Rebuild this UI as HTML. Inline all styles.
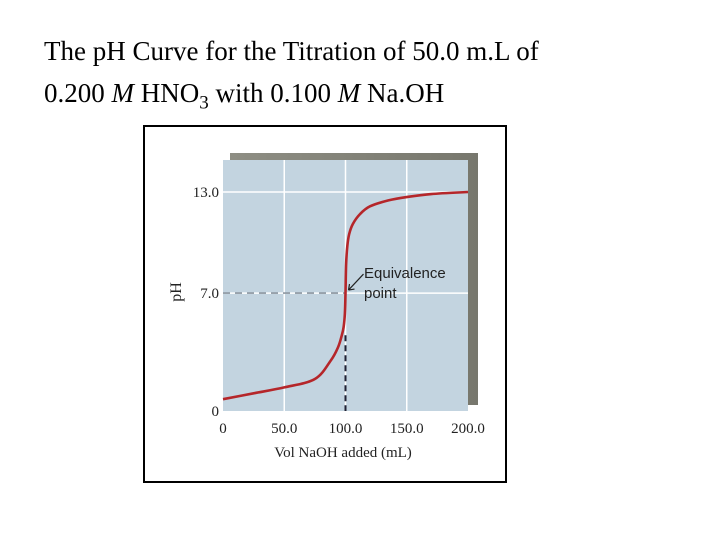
<!DOCTYPE html>
<html><head><meta charset="utf-8"><style>
body{margin:0;width:720px;height:540px;background:#fff;overflow:hidden;position:relative;font-family:"Liberation Serif",serif}
#title{position:absolute;left:44px;top:30px;font-size:27px;line-height:42px;color:#000;white-space:nowrap}
</style></head><body>
<div id="title">The pH Curve for the Titration of 50.0 m.L of<br>0.200 <i>M</i> HNO<sub style="font-size:19px">3</sub> with 0.100 <i>M</i> Na.OH</div>
<svg id="chart" width="720" height="540" style="position:absolute;left:0;top:0">
<defs><linearGradient id="sh" x1="0" y1="0" x2="1" y2="0"><stop offset="0" stop-color="#8e8e84"/><stop offset="1" stop-color="#77776d"/></linearGradient></defs>
<rect x="144" y="126" width="362" height="356" fill="#fff" stroke="#000" stroke-width="2"/>
<rect x="230" y="153" width="248" height="252" fill="url(#sh)"/>
<g id="plot"></g>
</svg>
<script>
const xTicks=[0,50,100,150,200];
const xTickLabels=["0","50.0","100.0","150.0","200.0"];
const yTicks=[0,7,13];
const yTickLabels=["0","7.0","13.0"];
const volumes=[0,25,50,75,88,94,97,98.5,99.5,100,100.5,101.5,103,106,112,120,135,150,170,200];
const phValues=[0.7,1.05,1.4,1.9,3.0,3.8,4.5,5.0,5.8,7.0,8.7,9.8,10.5,11.1,11.7,12.15,12.5,12.7,12.88,13.0];
const equivVol=100, equivPH=7;
const X0=223,X1=468,Y0=411,Y1=160;
const xs=v=>X0+(v-0)/200*(X1-X0);
const ys=p=>Y0-p*(411-192)/13;
const ns="http://www.w3.org/2000/svg";
const g=document.getElementById('plot');
function mk(t,a,p){const e=document.createElementNS(ns,t);for(const k in a)e.setAttribute(k,a[k]);(p||g).appendChild(e);return e;}
let r=mk('rect',{x:X0,y:Y1,width:X1-X0,height:Y0-Y1,fill:'#c3d4e0'});


xTicks.forEach((v,i)=>{
 if(v>0&&v<200){let l=mk('line',{x1:xs(v),x2:xs(v),y1:Y1,y2:Y0,stroke:'#fff','stroke-width':1.5});
 
 }
 let t=mk('text',{x:xs(v),y:433,'text-anchor':'middle','font-size':15,fill:'#222','font-family':'Liberation Serif, serif'});
 t.textContent=xTickLabels[i];
 
 
});
yTicks.forEach((v,i)=>{
 if(v>0){let l=mk('line',{x1:X0,x2:X1,y1:ys(v),y2:ys(v),stroke:'#fff','stroke-width':1.5});
 
 }
 let t=mk('text',{x:219,y:ys(v)+5,'text-anchor':'end','font-size':15,fill:'#222','font-family':'Liberation Serif, serif'});
 t.textContent=yTickLabels[i];
 
 
});
let h=mk('line',{x1:X0,x2:xs(equivVol),y1:ys(equivPH),y2:ys(equivPH),stroke:'#7a8590','stroke-width':1.3,'stroke-dasharray':'7,5'});


let vl=mk('line',{x1:xs(equivVol),x2:xs(equivVol),y1:ys(4.5),y2:Y0,stroke:'#223','stroke-width':2,'stroke-dasharray':'6,4'});


const pts=volumes.map((v,i)=>[xs(v),ys(phValues[i])]);
let d='M'+pts[0][0]+','+pts[0][1];
for(let i=0;i<pts.length-1;i++){const p0=pts[Math.max(0,i-1)],p1=pts[i],p2=pts[i+1],p3=pts[Math.min(pts.length-1,i+2)];
 d+=` C${p1[0]+(p2[0]-p0[0])/6},${p1[1]+(p2[1]-p0[1])/6} ${p2[0]-(p3[0]-p1[0])/6},${p2[1]-(p3[1]-p1[1])/6} ${p2[0]},${p2[1]}`;}
let c=mk('path',{d:d,fill:'none',stroke:'#b5262a','stroke-width':2.6,'stroke-linejoin':'round'});


let ar=mk('path',{d:`M${xs(equivVol)+18},${ys(equivPH)-19} L${xs(equivVol)+3},${ys(equivPH)-3} M${xs(equivVol)+3},${ys(equivPH)-3} l1,-6 M${xs(equivVol)+3},${ys(equivPH)-3} l6,-1`,stroke:'#222','stroke-width':1.2,fill:'none'});


let a1=mk('text',{x:364,y:278,'font-size':15,fill:'#222','font-family':'Liberation Sans, sans-serif'});a1.textContent='Equivalence';


let a2=mk('text',{x:364,y:298,'font-size':15,fill:'#222','font-family':'Liberation Sans, sans-serif'});a2.textContent='point';


let yt=mk('text',{x:0,y:0,'font-size':16,fill:'#222','text-anchor':'middle',transform:'translate(181,292) rotate(-90)','font-family':'Liberation Serif, serif'});yt.textContent='pH';


let xt=mk('text',{x:343,y:457,'font-size':15,fill:'#222','text-anchor':'middle','font-family':'Liberation Serif, serif'});xt.textContent='Vol NaOH added (mL)';


</script>
</body></html>
